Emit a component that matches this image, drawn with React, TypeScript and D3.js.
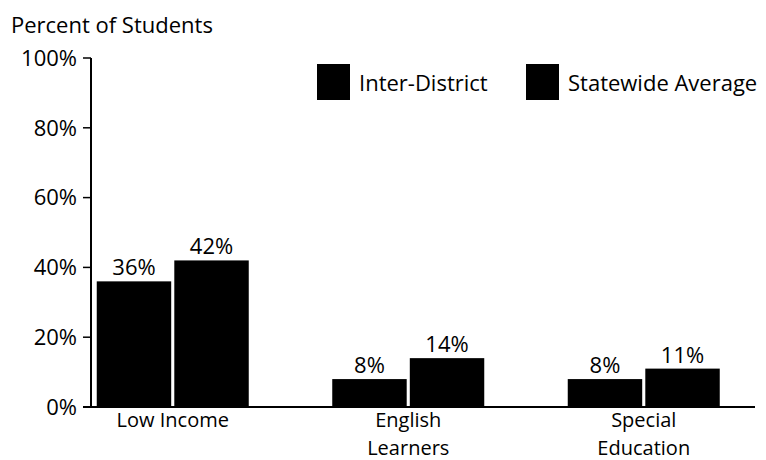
import React from "react";
import * as d3 from "d3";

const categories = ["Low Income", "English Learners", "Special Education"];
const categoryLines = [["Low Income"], ["English", "Learners"], ["Special", "Education"]];
const series = ["Inter-District", "Statewide Average"];
const interDistrict = [36, 8, 8];
const statewide = [42, 14, 11];
const yTicks = [0, 20, 40, 60, 80, 100];

const W = 766, H = 460;
const FONT = "'Open Sans', sans-serif";
const FS = 22;

export default function App() {
  const x = d3.scaleBand<string>().domain(categories).range([55, 761.5]).padding(0);
  const xs = d3.scaleBand<string>().domain(series).range([-76, 76]).paddingInner(0.04);
  const y = d3.scaleLinear().domain([0, 100]).range([407, 58]);
  const values = [interDistrict, statewide];
  const axisLeft = 91;
  const axisRight = 755;

  return (
    <svg width={W} height={H} style={{ position: "absolute", left: 0, top: 0, background: "#fff" }} fontFamily={FONT}>
      <text x={11} y={33} fontSize={FS} fill="#000">Percent of Students</text>
      {/* y axis */}
      <line x1={axisLeft} x2={axisLeft} y1={y(100)} y2={y(0)} stroke="#000" strokeWidth={2} />
      {yTicks.map((t) => (
        <g key={t}>
          <line x1={axisLeft - 8} x2={axisLeft} y1={y(t)} y2={y(t)} stroke="#000" strokeWidth={1.5} />
          <text x={axisLeft - 14} y={y(t)} dy="0.35em" textAnchor="end" fontSize={FS} fill="#000">{t}%</text>
        </g>
      ))}
      {/* bars */}
      {categories.map((c, i) => (
        <g key={c} transform={`translate(${(x(c) ?? 0) + x.bandwidth() / 2},0)`}>
          {series.map((s, j) => {
            const v = values[j][i];
            const bx = xs(s) ?? 0;
            return (
              <g key={s}>
                <rect x={bx} y={y(v)} width={xs.bandwidth()} height={y(0) - y(v)} fill="#000" />
                <text x={bx + xs.bandwidth() / 2} y={y(v) - 6} textAnchor="middle" fontSize={FS} fill="#000">{v}%</text>
              </g>
            );
          })}
          {categoryLines[i].map((ln, k) => (
            <text key={k} x={0} y={427 + k * 28} textAnchor="middle" fontSize={20} fill="#000">{ln}</text>
          ))}
        </g>
      ))}
      {/* x axis */}
      <line x1={axisLeft - 8} x2={axisRight} y1={y(0)} y2={y(0)} stroke="#000" strokeWidth={2} />
      {/* legend */}
      {series.map((s, j) => {
        const lx = [317, 526][j];
        return (
          <g key={s}>
            <rect x={lx} y={64} width={33} height={36} fill="#000" />
            <text x={lx + 42} y={91} fontSize={FS} fill="#000">{s}</text>
          </g>
        );
      })}
    </svg>
  );
}
